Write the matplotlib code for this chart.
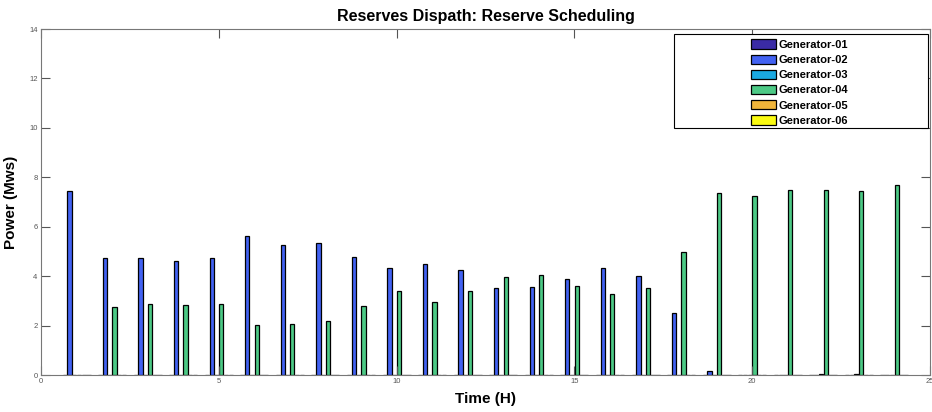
import numpy as np
import matplotlib.pyplot as plt
from matplotlib.patches import Rectangle

plt.rcParams['font.family'] = ['Liberation Sans', 'DejaVu Sans']

# reserve per generator, hours 1..24 (MW)
hours = np.arange(1, 25)
gen01 = [0]*24
gen02 = [7.45, 4.75, 4.75, 4.62, 4.74, 5.62, 5.26, 5.33, 4.79, 4.34, 4.51, 4.26,
         3.53, 3.55, 3.90, 4.33, 4.00, 2.52, 0.17, 0, 0, 0, 0, 0]
gen03 = [0]*21 + [0.03, 0.05, 0]
gen04 = [0, 2.77, 2.87, 2.82, 2.87, 2.02, 2.08, 2.19, 2.81, 3.39, 2.95, 3.38,
         3.97, 4.05, 3.60, 3.27, 3.51, 4.97, 7.35, 7.26, 7.49, 7.50, 7.46, 7.68]
gen05 = [0]*24
gen06 = [0]*24

series = [gen01, gen02, gen03, gen04, gen05, gen06]
names = ['Generator-01', 'Generator-02', 'Generator-03',
         'Generator-04', 'Generator-05', 'Generator-06']
colors = ['#3a2ba5', '#4262f2', '#1aa9e1', '#4cc985', '#f0b53a', '#fbfb12']

fig = plt.figure(figsize=(9.32, 4.12), dpi=100)
ax = fig.add_axes([41/932, 1-375/412, 889/932, 346/412])

# grouped bars, same layout as matlab bar(Y)
ngrp = len(series)
gw = 0.8
w = gw/ngrp
handles = []
for i, (vals, c) in enumerate(zip(series, colors)):
    pos = hours - gw/2 + (2*i+1)*w/2
    b = ax.bar(pos, vals, width=0.9*w, color=c, edgecolor='black', linewidth=0.9)
    handles.append(b)

ax.set_xlim(0, 25)
ax.set_ylim(0, 14)
ax.set_xticks(np.arange(0, 26, 5))
ax.set_yticks(np.arange(0, 15, 2))
ax.tick_params(direction='in', length=6.5, width=0.8, color='#555555',
               labelsize=5.5, labelcolor='#555555', top=True, right=True, pad=2.5)
for s in ax.spines.values():
    s.set_color('#777777')
    s.set_linewidth(0.8)

ax.set_title('Reserves Dispath: Reserve Scheduling', fontsize=11.5, fontweight='bold', pad=6)
ax.set_xlabel('Time (H)', fontsize=11, fontweight='bold', labelpad=5)
ax.set_ylabel('Power (Mws)', fontsize=11, fontweight='bold', labelpad=8)

# legend box
ax.add_patch(Rectangle((0.712, 0.714), 0.286, 0.2715, transform=ax.transAxes,
                       facecolor='white', edgecolor='black', linewidth=0.8, zorder=5))
leg = ax.legend(handles, names, loc='upper left', bbox_to_anchor=(0.7987, 0.97),
                frameon=False, prop={'weight': 'bold', 'size': 8},
                handlelength=2.25, handleheight=0.9, handletextpad=0.2,
                labelspacing=0.43, borderpad=0, borderaxespad=0)
leg.set_zorder(6)

fig.savefig('out.png', dpi=100)
